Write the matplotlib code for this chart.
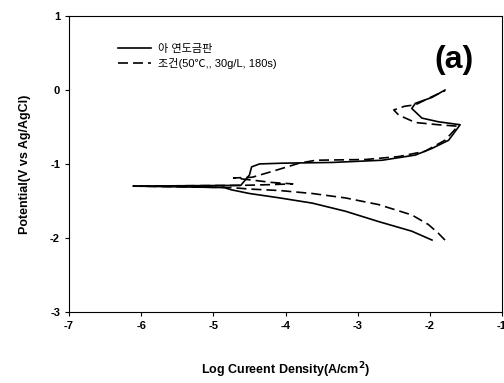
import matplotlib
matplotlib.use("Agg")
import matplotlib.pyplot as plt

plt.rcParams['font.family'] = ['Liberation Sans', 'Noto Sans CJK KR', 'DejaVu Sans']
plt.rcParams['axes.unicode_minus'] = False

# bare galvanized plate (solid)
bare_x = [-1.97, -2.25, -2.71, -3.17, -3.63, -4.08, -4.50, -4.75, -4.85, -6.11,
          -4.62, -4.50, -4.47, -4.36, -4.04, -3.35, -2.66, -2.20, -1.97,
          -1.74, -1.58, -1.88, -2.11, -2.25, -2.20, -1.97, -1.79]
bare_y = [-2.03, -1.91, -1.78, -1.64, -1.53, -1.46, -1.40, -1.35, -1.32, -1.30,
          -1.29, -1.15, -1.04, -1.00, -0.99, -0.98, -0.95, -0.88, -0.79,
          -0.68, -0.47, -0.43, -0.38, -0.25, -0.18, -0.10, 0.0]

# treated (50C, 30g/L, 180s) (dashed)
treat_x = [-1.79, -1.88, -2.02, -2.25, -2.71, -3.17, -3.63, -4.08, -4.50, -4.75,
           -6.11, -4.60, -4.20, -3.90, -4.20, -4.45, -4.72, -4.46, -4.18,
           -3.81, -3.58, -2.89, -2.43, -2.07, -1.79, -1.61, -1.88, -2.20,
           -2.43, -2.50, -2.35, -2.20, -1.97, -1.79]
treat_y = [-2.03, -1.94, -1.82, -1.69, -1.55, -1.46, -1.40, -1.36, -1.34, -1.32,
           -1.30, -1.29, -1.28, -1.27, -1.25, -1.22, -1.19, -1.18, -1.10,
           -0.99, -0.95, -0.94, -0.90, -0.83, -0.68, -0.49, -0.47, -0.44,
           -0.34, -0.27, -0.22, -0.20, -0.09, -0.01]

x_ticks = [-7, -6, -5, -4, -3, -2, -1]
y_ticks = [1, 0, -1, -2, -3]

fig = plt.figure(figsize=(5.04, 3.83), dpi=100)
ax = fig.add_axes([0.137, 0.186, 0.859, 0.772])

ax.plot(bare_x, bare_y, color='black', lw=1.2, label='아 연도금판')
ax.plot(treat_x, treat_y, color='black', lw=1.2, dashes=(6, 3), label='조건(50℃,, 30g/L, 180s)')

ax.set_xlim(-7, -1)
ax.set_ylim(-3, 1)
ax.set_xticks(x_ticks)
ax.set_yticks(y_ticks)
ax.tick_params(direction='out', length=3, width=0.8, labelsize=8)
for lab in ax.get_xticklabels() + ax.get_yticklabels():
    lab.set_fontweight('bold')

ax.set_xlabel('Log Cureent Density(A/cm$^\\mathbf{2}$)', fontsize=9, fontweight='bold', labelpad=21)
ax.set_ylabel('Potential(V vs Ag/AgCl)', fontsize=9, fontweight='bold', labelpad=14)

ax.legend(loc='upper left', bbox_to_anchor=(0.09, 0.94), frameon=False,
          fontsize=8, handlelength=3.0, labelspacing=0.4, handletextpad=0.6)

ax.text(0.89, 0.85, '(a)', transform=ax.transAxes, fontsize=23, fontweight='bold',
        ha='center', va='center')

fig.savefig('out.png', dpi=100)
